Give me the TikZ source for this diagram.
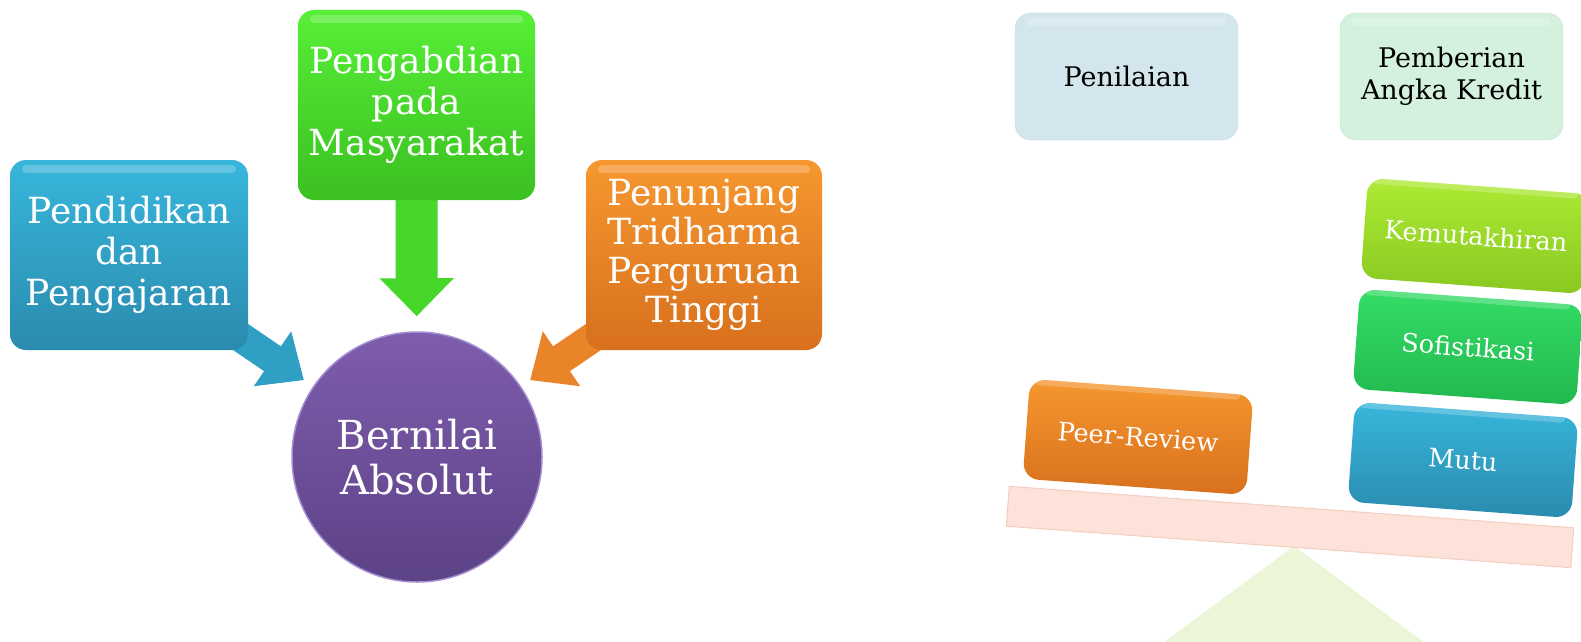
\documentclass[tikz,border=0pt]{standalone}
\usepackage{fontspec}
\setmainfont{DejaVu Serif}
\usetikzlibrary{arrows.meta,shapes.geometric}
\pgfdeclarelayer{bg}
\pgfsetlayers{bg,main}
\definecolor{blueT}{HTML}{38B6DC}
\definecolor{blueB}{HTML}{2A8BAE}
\definecolor{blueA}{HTML}{2FA0C4}
\definecolor{grnT}{HTML}{57EF37}
\definecolor{grnB}{HTML}{3BC021}
\definecolor{grnA}{HTML}{47D62A}
\definecolor{orT}{HTML}{F6972F}
\definecolor{orB}{HTML}{D8701D}
\definecolor{orA}{HTML}{E98428}
\definecolor{purT}{HTML}{7E5DAD}
\definecolor{purB}{HTML}{5C4286}
\definecolor{purR}{HTML}{A58ED2}
\definecolor{limeT}{HTML}{AEEB35}
\definecolor{limeB}{HTML}{88C821}
\definecolor{sofT}{HTML}{34DD66}
\definecolor{sofB}{HTML}{21B84F}
\definecolor{nilF}{HTML}{D3E6ED}
\definecolor{nilD}{HTML}{C4DCE5}
\definecolor{pakF}{HTML}{D4F1DE}
\definecolor{pakD}{HTML}{C3E6CF}
\definecolor{beamF}{HTML}{FCE2D9}
\definecolor{beamD}{HTML}{F6CDBF}
\definecolor{fulc}{HTML}{EBF6D8}
\begin{document}
\begin{tikzpicture}[x=1pt,y=-1pt,
  box/.style={rounded corners=16pt, inner sep=0pt, align=center, text=white},
  gloss/.style={path picture={\fill[white,opacity=0.22,rounded corners=4pt]
     ([xshift=12pt,yshift=-5pt]path picture bounding box.north west) rectangle
     ([xshift=-12pt,yshift=-13pt]path picture bounding box.north east);}},
  big/.style={font=\fontsize{36}{41}\selectfont},
  small/.style={font=\fontsize{25.5}{30}\selectfont},
  tilt/.style={rotate=-4.2, minimum width=224pt, minimum height=100pt},
  lefbox/.style={minimum width=238pt, minimum height=190pt},
  blockarr/.style={line width=30pt, -{Triangle[width=64pt,length=38pt]}}
]
\useasboundingbox (0,0) rectangle (1581,642);
\clip (0,0) rectangle (1581,642);

% ---- left diagram ----
\node[box,big,lefbox,gloss,top color=blueT,bottom color=blueB] (pend) at (129,255) {Pendidikan\\dan\\Pengajaran};
\node[box,big,lefbox,gloss,minimum width=237pt,top color=grnT,bottom color=grnB] (peng) at (416.5,105) {Pengabdian\\pada\\Masyarakat};
\node[box,lefbox,gloss,minimum width=236pt,top color=orT,bottom color=orB,
      font=\fontsize{36}{39}\selectfont] (penu) at (704,255) {Penunjang\\Tridharma\\Perguruan\\Tinggi};
\node[circle, minimum size=250pt, inner sep=0pt, top color=purT, bottom color=purB,
      draw=purR, line width=1.5pt, text=white, align=center,
      font=\fontsize{40}{45}\selectfont] (abs) at (417,457) {Bernilai\\Absolut};

\begin{pgfonlayer}{bg}
\draw[blockarr, draw=blueA, shorten >=11pt] ([xshift=-25pt,yshift=25pt]pend.south east) -- (abs);
\draw[blockarr, draw=grnA, line width=42pt, -{Triangle[width=72pt,length=38pt]}, shorten >=15pt] (peng.south) -- (abs);
\draw[blockarr, draw=orA, shorten >=11pt] ([xshift=25pt,yshift=25pt]penu.south west) -- (abs);
\end{pgfonlayer}

% ---- right diagram ----
\node[box,text=black,font=\fontsize{27}{32}\selectfont,minimum width=223pt,minimum height=127pt,
      fill=nilF,draw=nilD,gloss] (nil) at (1126.5,76.5) {Penilaian};
\node[box,text=black,font=\fontsize{27}{32}\selectfont,minimum width=223pt,minimum height=127pt,
      fill=pakF,draw=pakD,gloss] (pak) at (1451.5,76.5) {Pemberian\\Angka Kredit};

\fill[fulc] (1294,546) -- (1140,660) -- (1448,660) -- cycle;
\node[rotate=-4.2, minimum width=566pt, minimum height=40pt, inner sep=0pt,
      fill=beamF, draw=beamD, line width=1pt] (beam) at (1290,527) {};

\node[box,tilt,small,gloss,top color=orT,bottom color=orB] (peer) at (1138,437) {Peer-Review};
\node[box,tilt,small,gloss,top color=blueT,bottom color=blueB] (mutu) at (1463,460) {Mutu};
\node[box,tilt,small,gloss,top color=sofT,bottom color=sofB] (sof) at (1468,347) {Sofistikasi};
\node[box,tilt,small,gloss,top color=limeT,bottom color=limeB] (kem) at (1476,236) {Kemutakhiran};
\end{tikzpicture}
\end{document}
